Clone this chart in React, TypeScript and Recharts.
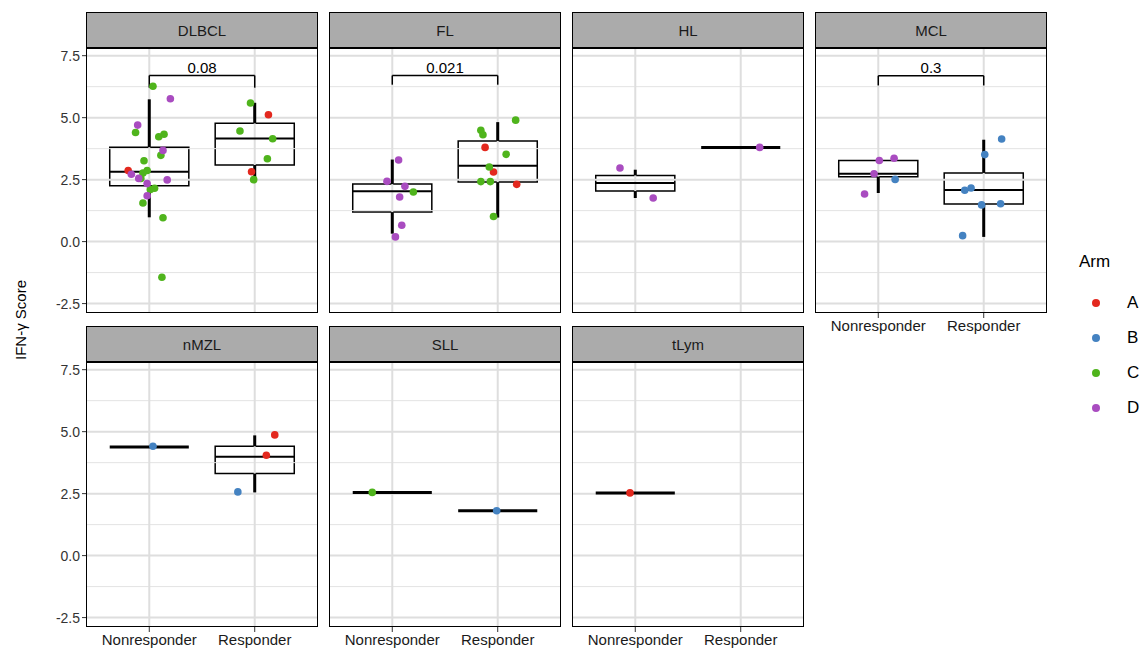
import React from "react";
import { ComposedChart, Scatter, XAxis, YAxis, ReferenceLine, ReferenceArea } from "recharts";

const arms = ["A", "B", "C", "D"];
const armColors: Record<string, string> = { A: "#E3281E", B: "#4482C1", C: "#4FB41C", D: "#A94CC0" };
const groups = ["Nonresponder", "Responder"];
const yTicks = [-2.5, 0, 2.5, 5, 7.5];
const minorY = [-1.25, 1.25, 3.75, 6.25];

type Pt = { x: number; y: number; arm: string };
// box stats: [group x, whiskerLow, q1, median, q3, whiskerHigh]
type Box = [number, number, number, number, number, number];

const dlbclPoints: Pt[] = [
  { x: 1.035, y: 6.27, arm: "C" }, { x: 1.2, y: 5.76, arm: "D" }, { x: 0.89, y: 4.7, arm: "D" },
  { x: 0.87, y: 4.4, arm: "C" }, { x: 1.09, y: 4.23, arm: "C" }, { x: 1.14, y: 4.33, arm: "C" },
  { x: 1.13, y: 3.68, arm: "D" }, { x: 1.11, y: 3.48, arm: "C" }, { x: 0.95, y: 3.26, arm: "C" },
  { x: 0.8, y: 2.87, arm: "A" }, { x: 0.83, y: 2.72, arm: "D" }, { x: 0.98, y: 2.87, arm: "C" },
  { x: 0.94, y: 2.77, arm: "C" }, { x: 0.92, y: 2.55, arm: "C" }, { x: 0.9, y: 2.55, arm: "D" },
  { x: 0.98, y: 2.34, arm: "D" }, { x: 1.05, y: 2.15, arm: "C" }, { x: 1.01, y: 2.1, arm: "C" },
  { x: 1.17, y: 2.49, arm: "D" }, { x: 0.98, y: 1.85, arm: "D" }, { x: 0.94, y: 1.56, arm: "C" },
  { x: 1.13, y: 0.96, arm: "C" }, { x: 1.12, y: -1.44, arm: "C" },
  { x: 1.96, y: 5.59, arm: "C" }, { x: 2.13, y: 5.12, arm: "A" }, { x: 1.86, y: 4.46, arm: "C" },
  { x: 2.17, y: 4.15, arm: "C" }, { x: 2.12, y: 3.34, arm: "C" }, { x: 1.97, y: 2.82, arm: "A" },
  { x: 1.99, y: 2.5, arm: "C" },
];
const dlbclBoxes: Box[] = [[1, 0.98, 2.25, 2.82, 3.81, 5.74], [2, 2.5, 3.09, 4.16, 4.77, 5.6]];

const flPoints: Pt[] = [
  { x: 1.06, y: 3.29, arm: "D" }, { x: 0.95, y: 2.43, arm: "D" }, { x: 1.12, y: 2.23, arm: "D" },
  { x: 1.2, y: 2.0, arm: "C" }, { x: 1.07, y: 1.8, arm: "D" }, { x: 1.09, y: 0.66, arm: "D" },
  { x: 1.03, y: 0.19, arm: "D" },
  { x: 2.17, y: 4.9, arm: "C" }, { x: 1.84, y: 4.49, arm: "C" }, { x: 1.86, y: 4.31, arm: "C" },
  { x: 1.88, y: 3.8, arm: "A" }, { x: 2.08, y: 3.52, arm: "C" }, { x: 1.92, y: 3.01, arm: "C" },
  { x: 1.96, y: 2.81, arm: "A" }, { x: 1.84, y: 2.42, arm: "C" }, { x: 1.93, y: 2.42, arm: "C" },
  { x: 2.18, y: 2.31, arm: "A" }, { x: 1.96, y: 1.01, arm: "C" },
];
const flBoxes: Box[] = [[1, 0.32, 1.19, 2.03, 2.32, 3.31], [2, 0.97, 2.4, 3.06, 4.06, 4.82]];

const hlPoints: Pt[] = [
  { x: 0.855, y: 2.97, arm: "D" }, { x: 1.17, y: 1.76, arm: "D" }, { x: 2.18, y: 3.8, arm: "D" },
];
const hlBoxes: Box[] = [[1, 1.76, 2.04, 2.36, 2.67, 2.9], [2, 3.8, 3.8, 3.8, 3.8, 3.8]];

const mclPoints: Pt[] = [
  { x: 1.01, y: 3.27, arm: "D" }, { x: 1.15, y: 3.36, arm: "D" }, { x: 0.96, y: 2.74, arm: "D" },
  { x: 1.16, y: 2.51, arm: "B" }, { x: 0.87, y: 1.92, arm: "D" },
  { x: 2.17, y: 4.14, arm: "B" }, { x: 2.01, y: 3.51, arm: "B" }, { x: 1.88, y: 2.16, arm: "B" },
  { x: 1.82, y: 2.07, arm: "B" }, { x: 1.98, y: 1.48, arm: "B" }, { x: 2.16, y: 1.53, arm: "B" },
  { x: 1.8, y: 0.24, arm: "B" },
];
const mclBoxes: Box[] = [[1, 1.96, 2.62, 2.74, 3.27, 3.27], [2, 0.19, 1.52, 2.08, 2.77, 4.11]];

const nmzlPoints: Pt[] = [
  { x: 1.035, y: 4.41, arm: "B" }, { x: 2.19, y: 4.87, arm: "A" }, { x: 2.11, y: 4.05, arm: "A" },
  { x: 1.84, y: 2.57, arm: "B" },
];
const nmzlBoxes: Box[] = [[1, 4.38, 4.38, 4.38, 4.38, 4.38], [2, 2.55, 3.31, 3.99, 4.41, 4.85]];

const sllPoints: Pt[] = [{ x: 0.81, y: 2.55, arm: "C" }, { x: 1.99, y: 1.81, arm: "B" }];
const sllBoxes: Box[] = [[1, 2.55, 2.55, 2.55, 2.55, 2.55], [2, 1.81, 1.81, 1.81, 1.81, 1.81]];

const tlymPoints: Pt[] = [{ x: 0.95, y: 2.53, arm: "A" }];
const tlymBoxes: Box[] = [[1, 2.53, 2.53, 2.53, 2.53, 2.53]];

// [label, bracketTop, legBottom]
const pvalues: Record<string, [string, number, number] | null> = {
  DLBCL: ["0.08", 6.7, 6.21], FL: ["0.021", 6.7, 6.33], MCL: ["0.3", 6.69, 6.3],
};

const panels = [
  { name: "DLBCL", points: dlbclPoints, boxes: dlbclBoxes, row: 0, col: 0, xaxis: false },
  { name: "FL", points: flPoints, boxes: flBoxes, row: 0, col: 1, xaxis: false },
  { name: "HL", points: hlPoints, boxes: hlBoxes, row: 0, col: 2, xaxis: false },
  { name: "MCL", points: mclPoints, boxes: mclBoxes, row: 0, col: 3, xaxis: true },
  { name: "nMZL", points: nmzlPoints, boxes: nmzlBoxes, row: 1, col: 0, xaxis: true },
  { name: "SLL", points: sllPoints, boxes: sllBoxes, row: 1, col: 1, xaxis: true },
  { name: "tLym", points: tlymPoints, boxes: tlymBoxes, row: 1, col: 2, xaxis: true },
];

const colLeft = [86, 329, 572, 815];
const stripTop = [12, 326];
const PW = 232;
const PH = 265;
const YW = 50;
const font = "'Liberation Sans', Arial, sans-serif";

function Panel({ p }: { p: (typeof panels)[number] }) {
  const showY = p.col === 0;
  const left = colLeft[p.col] - (showY ? YW : 0);
  const top = stripTop[p.row] + 36;
  const w = PW + (showY ? YW : 0);
  const h = PH + (p.xaxis ? 26 : 0);
  const pv = pvalues[p.name];
  const half = 0.375;
  return (
    <>
      <div style={{ position: "absolute", left: colLeft[p.col], top: stripTop[p.row], width: PW - 2, height: 34,
        background: "#ABABAB", border: "1px solid #000", borderBottomWidth: 2, fontFamily: font, fontSize: 15,
        color: "#1A1A1A", display: "flex", alignItems: "center", justifyContent: "center" }}>{p.name}</div>
      <div style={{ position: "absolute", left, top }}>
        <ComposedChart width={w} height={h} margin={{ top: 0, right: 0, bottom: 0, left: 0 }}>
          <XAxis type="number" dataKey="x" domain={[0.4, 2.6]} ticks={[1, 2]} hide={!p.xaxis} height={26}
            tickFormatter={(v: number) => groups[v - 1]} axisLine={false} tickLine={{ stroke: "#333" }} tickSize={5}
            tick={{ fontSize: 15, fontFamily: font, fill: "#1A1A1A" }} allowDataOverflow />
          <YAxis type="number" dataKey="y" domain={[-2.88, 7.81]} ticks={yTicks} hide={!showY} width={YW}
            tickFormatter={(v: number) => v.toFixed(1)} axisLine={false} tickLine={{ stroke: "#333" }} tickSize={4}
            tick={{ fontSize: 14, fontFamily: font, fill: "#333" }} allowDataOverflow />
          {minorY.map((v) => <ReferenceLine key={"m" + v} y={v} stroke="#E3E3E3" strokeWidth={1} />)}
          {yTicks.map((v) => <ReferenceLine key={"M" + v} y={v} stroke="#DEDEDE" strokeWidth={2} />)}
          {[1, 2].map((v) => <ReferenceLine key={"v" + v} x={v} stroke="#DEDEDE" strokeWidth={2} />)}
          {p.boxes.map(([gx, lo, q1, med, q3, hi]) => (
            <React.Fragment key={"b" + gx}>
              <ReferenceLine segment={[{ x: gx, y: lo }, { x: gx, y: q1 }]} stroke="#000" strokeWidth={3} />
              <ReferenceLine segment={[{ x: gx, y: q3 }, { x: gx, y: hi }]} stroke="#000" strokeWidth={3} />
              {q3 > q1 && (
                <ReferenceArea x1={gx - half} x2={gx + half} y1={q1} y2={q3} fill="#FFFFFF" fillOpacity={0.4}
                  stroke="#000" strokeWidth={1.5} />
              )}
              <ReferenceLine segment={[{ x: gx - half, y: med }, { x: gx + half, y: med }]} stroke="#000"
                strokeWidth={q3 > q1 ? 2 : 3} />
            </React.Fragment>
          ))}
          {pv && (
            <>
              <ReferenceLine segment={[{ x: 1, y: pv[1] }, { x: 2, y: pv[1] }]} stroke="#000" strokeWidth={1.5}
                label={{ value: pv[0], position: "top", fontSize: 15, fontFamily: font, fill: "#000", offset: 3 }} />
              <ReferenceLine segment={[{ x: 1, y: pv[1] }, { x: 1, y: pv[2] }]} stroke="#000" strokeWidth={1.5} />
              <ReferenceLine segment={[{ x: 2, y: pv[1] }, { x: 2, y: pv[2] }]} stroke="#000" strokeWidth={1.5} />
            </>
          )}
          {arms.map((a) => (
            <Scatter key={a} data={p.points.filter((d) => d.arm === a)} fill={armColors[a]}
              isAnimationActive={false} shape={(s: any) => <circle cx={s.cx} cy={s.cy} r={3.8} fill={armColors[a]} />} />
          ))}
        </ComposedChart>
      </div>
      <div style={{ position: "absolute", left: colLeft[p.col], top, width: PW - 2, height: PH - 2,
        border: "1px solid #000", pointerEvents: "none" }} />
    </>
  );
}

export default function App() {
  return (
    <div style={{ position: "absolute", left: 0, top: 0, width: 1148, height: 652, background: "#fff", fontFamily: font }}>
      {panels.map((p) => <Panel key={p.name} p={p} />)}
      <div style={{ position: "absolute", left: 20, top: 320, transform: "translate(-50%,-50%) rotate(-90deg)",
        fontSize: 15, color: "#000", whiteSpace: "nowrap" }}>IFN-γ Score</div>
      <div style={{ position: "absolute", left: 1079, top: 252, fontSize: 17, color: "#000" }}>Arm</div>
      {arms.map((a, i) => (
        <div key={a} style={{ position: "absolute", left: 1092, top: 293 + i * 35, height: 20, display: "flex", alignItems: "center" }}>
          <div style={{ width: 8, height: 8, borderRadius: 4, background: armColors[a] }} />
          <div style={{ marginLeft: 27, fontSize: 17, color: "#000" }}>{a}</div>
        </div>
      ))}
    </div>
  );
}
